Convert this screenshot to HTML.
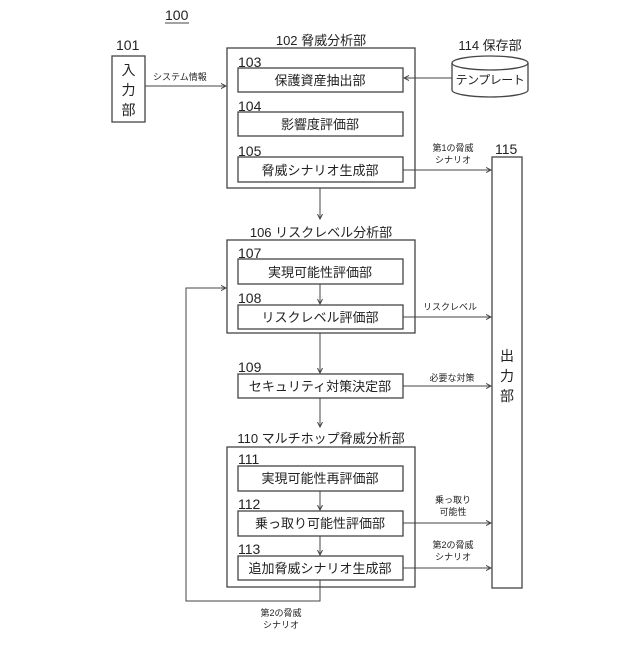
<!DOCTYPE html>
<html><head><meta charset="utf-8"><style>
body{margin:0;background:#fff}
text{font-family:"Liberation Sans","Noto Sans CJK JP",sans-serif;fill:#222}
</style></head><body>
<svg width="640" height="640" viewBox="0 0 640 640" xmlns="http://www.w3.org/2000/svg">
<defs><marker id="a" markerWidth="6" markerHeight="6" refX="5" refY="3" orient="auto"><path d="M0,0.5 L5,3 L0,5.5" fill="none" stroke="#444" stroke-width="1"/></marker></defs>
<g fill="none" stroke="#444" stroke-width="1.3">
<rect x="112" y="56" width="33" height="66"/>
<rect x="227" y="48" width="188" height="140"/>
<rect x="238" y="68" width="165" height="24"/>
<rect x="238" y="112" width="165" height="24"/>
<rect x="238" y="157" width="165" height="25"/>
<rect x="492" y="157" width="30" height="431"/>
<rect x="227" y="240" width="188" height="93"/>
<rect x="238" y="259" width="165" height="25"/>
<rect x="238" y="305" width="165" height="24"/>
<rect x="238" y="374" width="165" height="24"/>
<rect x="227" y="447" width="188" height="140"/>
<rect x="238" y="466" width="165" height="25"/>
<rect x="238" y="511" width="165" height="25"/>
<rect x="238" y="556" width="165" height="24"/>
<path d="M452,63 L452,90 A38,7 0 0 0 528,90 L528,63"/>
<ellipse cx="490" cy="63" rx="38" ry="7"/>
</g>
<g fill="none" stroke="#444" stroke-width="1" marker-end="url(#a)">
<path d="M145,86 H226"/>
<path d="M452,78 H404"/>
<path d="M403,170 H491"/>
<path d="M320,188 V219"/>
<path d="M320,284 V304"/>
<path d="M403,317 H491"/>
<path d="M320,333 V373"/>
<path d="M403,386 H491"/>
<path d="M320,398 V427"/>
<path d="M320,491 V510"/>
<path d="M320,536 V555"/>
<path d="M403,523 H491"/>
<path d="M403,568 H491"/>
<path d="M320,580 V601 H186 V288 H226"/>
</g>
<line x1="165" y1="23" x2="189" y2="23" stroke="#444" stroke-width="1"/>
<text x="165" y="20" font-size="14">100</text>
<text x="116" y="50" font-size="14">101</text>
<text x="128.5" y="75" font-size="14" text-anchor="middle">入</text>
<text x="128.5" y="95" font-size="14" text-anchor="middle">力</text>
<text x="128.5" y="115" font-size="14" text-anchor="middle">部</text>
<text x="153" y="80" font-size="9">システム情報</text>
<text x="321" y="45" font-size="13" text-anchor="middle">102 脅威分析部</text>
<text x="238" y="67" font-size="14">103</text>
<text x="320" y="85" font-size="13" text-anchor="middle">保護資産抽出部</text>
<text x="238" y="111" font-size="14">104</text>
<text x="320" y="129" font-size="13" text-anchor="middle">影響度評価部</text>
<text x="238" y="156" font-size="14">105</text>
<text x="320" y="175" font-size="13" text-anchor="middle">脅威シナリオ生成部</text>
<text x="490" y="50" font-size="13" text-anchor="middle">114 保存部</text>
<text x="490" y="84" font-size="12" text-anchor="middle" letter-spacing="-0.5">テンプレート</text>
<text x="453" y="151" font-size="9" text-anchor="middle">第1の脅威</text>
<text x="453" y="163" font-size="9" text-anchor="middle">シナリオ</text>
<text x="495" y="154" font-size="14">115</text>
<text x="507" y="361" font-size="14" text-anchor="middle">出</text>
<text x="507" y="381" font-size="14" text-anchor="middle">力</text>
<text x="507" y="401" font-size="14" text-anchor="middle">部</text>
<text x="321" y="237" font-size="13" text-anchor="middle">106 リスクレベル分析部</text>
<text x="238" y="258" font-size="14">107</text>
<text x="320" y="277" font-size="13" text-anchor="middle">実現可能性評価部</text>
<text x="238" y="303" font-size="14">108</text>
<text x="320" y="322" font-size="13" text-anchor="middle">リスクレベル評価部</text>
<text x="450" y="310" font-size="9" text-anchor="middle">リスクレベル</text>
<text x="238" y="372" font-size="14">109</text>
<text x="320" y="391" font-size="13" text-anchor="middle">セキュリティ対策決定部</text>
<text x="452" y="381" font-size="9" text-anchor="middle">必要な対策</text>
<text x="321" y="443" font-size="13" text-anchor="middle">110 マルチホップ脅威分析部</text>
<text x="238" y="464" font-size="14">111</text>
<text x="320" y="483" font-size="13" text-anchor="middle">実現可能性再評価部</text>
<text x="238" y="509" font-size="14">112</text>
<text x="320" y="528" font-size="13" text-anchor="middle">乗っ取り可能性評価部</text>
<text x="453" y="503" font-size="9" text-anchor="middle">乗っ取り</text>
<text x="453" y="515" font-size="9" text-anchor="middle">可能性</text>
<text x="238" y="554" font-size="14">113</text>
<text x="320" y="573" font-size="13" text-anchor="middle">追加脅威シナリオ生成部</text>
<text x="453" y="548" font-size="9" text-anchor="middle">第2の脅威</text>
<text x="453" y="560" font-size="9" text-anchor="middle">シナリオ</text>
<text x="281" y="616" font-size="9" text-anchor="middle">第2の脅威</text>
<text x="281" y="628" font-size="9" text-anchor="middle">シナリオ</text>
</svg>
</body></html>
